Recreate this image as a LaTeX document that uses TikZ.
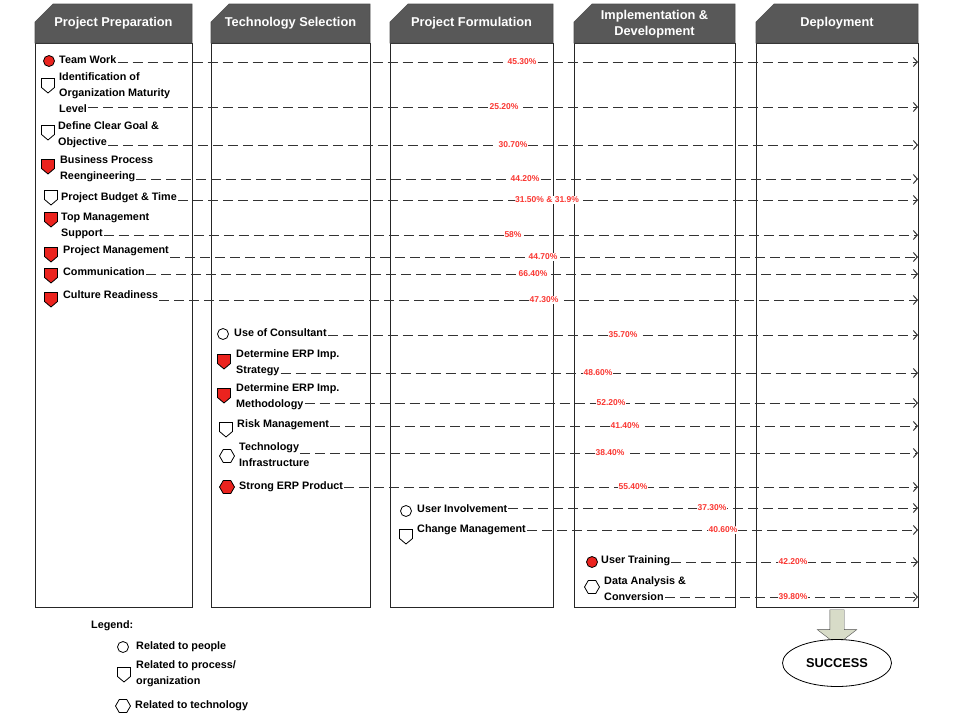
\documentclass[tikz,border=0pt]{standalone}
\usepackage{fontspec}
\setmainfont{Liberation Sans}
\usepackage{tikz}
\usetikzlibrary{shapes.geometric, shapes.symbols, shapes.arrows}
\usetikzlibrary{arrows.meta, positioning}
\definecolor{headgray}{RGB}{88,88,88}
\definecolor{factred}{RGB}{235,35,30}
\definecolor{pctred}{RGB}{250,55,50}
\definecolor{arrowgreen}{RGB}{216,220,200}
\tikzstyle{colbox} = [draw=black!85, line width=0.9pt, fill=white, inner sep=0pt]
\tikzstyle{headbox} = [draw=black!70, fill=headgray, line width=0.6pt]
\tikzstyle{headtext} = [text=white, font=\fontsize{12.8}{15}\selectfont\bfseries, align=center]
\tikzstyle{item} = [anchor=west, inner sep=1pt, text height=8pt, text depth=2.5pt, font=\fontsize{10.8}{13}\selectfont\bfseries]
\tikzstyle{people} = [circle, draw, line width=0.8pt, minimum size=11pt, inner sep=0pt, fill=white]
\tikzstyle{process} = [signal, signal to=south, signal pointer angle=100, draw, line width=0.8pt, minimum width=13pt, minimum height=9pt, inner sep=0pt, fill=white]
\tikzstyle{techno} = [regular polygon, regular polygon sides=6, draw, line width=0.8pt, minimum size=15pt, inner sep=0pt, fill=white]
\tikzstyle{pct} = [text=pctred, fill=white, inner sep=0.6pt, font=\fontsize{8.5}{9}\selectfont\bfseries]
\tikzstyle{dasharrow} = [draw=black!80, line width=1pt, dash pattern=on 10pt off 5pt, -{Straight Barb[length=4pt,width=9pt]}]

\begin{document}
\begin{tikzpicture}[x=1pt, y=-1pt]
    \useasboundingbox (0,0) rectangle (960,720);

    % Phase columns
    \node[colbox, minimum width=157pt, minimum height=564pt] (prep) at (113.5,325) {};
    \node[colbox, minimum width=159pt, minimum height=564pt] (techsel) at (290.5,325) {};
    \node[colbox, minimum width=163pt, minimum height=564pt] (formul) at (471.5,325) {};
    \node[colbox, minimum width=161pt, minimum height=564pt] (impl) at (654.5,325) {};
    \node[colbox, minimum width=162pt, minimum height=564pt] (deploy) at (837,325) {};

    % Phase headers
    \draw[headbox] (35,43) -- (35,22) -- (53,4) -- (192,4) -- (192,43) -- cycle;
    \node[headtext] (prephead) at (113.5,23) {Project Preparation};
    \draw[headbox] (211,43) -- (211,22) -- (229,4) -- (370,4) -- (370,43) -- cycle;
    \node[headtext] (techhead) at (290.5,23) {Technology Selection};
    \draw[headbox] (390,43) -- (390,22) -- (408,4) -- (553,4) -- (553,43) -- cycle;
    \node[headtext] (formhead) at (471.5,23) {Project Formulation};
    \draw[headbox] (574,43) -- (574,22) -- (592,4) -- (735,4) -- (735,43) -- cycle;
    \node[headtext, font=\fontsize{12.8}{16}\selectfont\bfseries] (implhead) at (654.5,24.5) {Implementation \&\\Development};
    \draw[headbox] (756,43) -- (756,22) -- (774,4) -- (918,4) -- (918,43) -- cycle;
    \node[headtext] (deplhead) at (837,23) {Deployment};

    % Team Work
    \node[people, fill=factred] (twi) at (49,61) {};
    \node[item] (tw) at (58,61) {Team Work};
    \coordinate (twend) at (918,62);
    \draw[dasharrow] (tw.east |- twend) -- (twend);
    \node[pct] (twp) at (522,62) {45.30\%};

    % Identification of Organization Maturity Level
    \node[process] (idi) at (48,83) {};
    \node[item] (idA) at (58,78) {Identification of};
    \node[item, below=3pt of idA.south west, anchor=north west] (idB) {Organization Maturity};
    \node[item, below=3pt of idB.south west, anchor=north west] (idC) {Level};
    \coordinate (idend) at (918,107);
    \draw[dasharrow] (idC.east |- idend) -- (idend);
    \node[pct] (idp) at (504,107) {25.20\%};

    % Define Clear Goal & Objective
    \node[process] (goi) at (48,130) {};
    \node[item] (goA) at (57,127) {Define Clear Goal \&};
    \node[item, below=3pt of goA.south west, anchor=north west] (goB) {Objective};
    \coordinate (goend) at (918,145);
    \draw[dasharrow] (goB.east |- goend) -- (goend);
    \node[pct] (gop) at (513,145) {30.70\%};

    % Business Process Reengineering
    \node[process, fill=factred] (bpi) at (48,164) {};
    \node[item] (bpA) at (59,161) {Business Process};
    \node[item, below=3pt of bpA.south west, anchor=north west] (bpB) {Reengineering};
    \coordinate (bpend) at (918,179);
    \draw[dasharrow] (bpB.east |- bpend) -- (bpend);
    \node[pct] (bpp) at (525,179) {44.20\%};

    % Project Budget & Time
    \node[process] (bti) at (51,195) {};
    \node[item] (bt) at (60,198) {Project Budget \& Time};
    \coordinate (btend) at (918,200);
    \draw[dasharrow] (bt.east |- btend) -- (btend);
    \node[pct] (btp) at (547,200) {31.50\% \& 31.9\%};

    % Top Management Support
    \node[process, fill=factred] (tmi) at (51,217) {};
    \node[item] (tmA) at (60,218) {Top Management};
    \node[item, below=3pt of tmA.south west, anchor=north west] (tmB) {Support};
    \coordinate (tmend) at (918,235);
    \draw[dasharrow] (tmB.east |- tmend) -- (tmend);
    \node[pct] (tmp) at (513,235) {58\%};

    % Project Management
    \node[process, fill=factred] (pmi) at (51,252) {};
    \node[item] (pm) at (62,251) {Project Management};
    \coordinate (pmend) at (918,257);
    \draw[dasharrow] (pm.east |- pmend) -- (pmend);
    \node[pct] (pmp) at (543,257) {44.70\%};

    % Communication
    \node[process, fill=factred] (cmi) at (51,273) {};
    \node[item] (cm) at (62,273) {Communication};
    \coordinate (cmend) at (918,274);
    \draw[dasharrow] (cm.east |- cmend) -- (cmend);
    \node[pct] (cmp) at (533,274) {66.40\%};

    % Culture Readiness
    \node[process, fill=factred] (cri) at (51,297) {};
    \node[item] (cr) at (62,296) {Culture Readiness};
    \coordinate (crend) at (918,300);
    \draw[dasharrow] (cr.east |- crend) -- (crend);
    \node[pct] (crp) at (544,300) {47.30\%};

    % Use of Consultant
    \node[people] (uci) at (223,334) {};
    \node[item] (uc) at (233,334) {Use of Consultant};
    \coordinate (ucend) at (918,335);
    \draw[dasharrow] (uc.east |- ucend) -- (ucend);
    \node[pct] (ucp) at (623,335) {35.70\%};

    % Determine ERP Imp. Strategy
    \node[process, fill=factred] (sti) at (224,359) {};
    \node[item] (stA) at (235,355) {Determine ERP Imp.};
    \node[item, below=3pt of stA.south west, anchor=north west] (stB) {Strategy};
    \coordinate (stend) at (918,373);
    \draw[dasharrow] (stB.east |- stend) -- (stend);
    \node[pct] (stp) at (598,373) {48.60\%};

    % Determine ERP Imp. Methodology
    \node[process, fill=factred] (mei) at (224,393) {};
    \node[item] (meA) at (235,389) {Determine ERP Imp.};
    \node[item, below=3pt of meA.south west, anchor=north west] (meB) {Methodology};
    \coordinate (meend) at (918,403);
    \draw[dasharrow] (meB.east |- meend) -- (meend);
    \node[pct] (mep) at (611,403) {52.20\%};

    % Risk Management
    \node[process] (rmi) at (226,427) {};
    \node[item] (rm) at (236,425) {Risk Management};
    \coordinate (rmend) at (918,426);
    \draw[dasharrow] (rm.east |- rmend) -- (rmend);
    \node[pct] (rmp) at (625,426) {41.40\%};

    % Technology Infrastructure
    \node[techno] (tii) at (227,456) {};
    \node[item] (tiA) at (238,448) {Technology};
    \node[item, below=3pt of tiA.south west, anchor=north west] (tiB) {Infrastructure};
    \coordinate (tiend) at (918,453);
    \draw[dasharrow] (tiA.east |- tiend) -- (tiend);
    \node[pct] (tip) at (610,453) {38.40\%};

    % Strong ERP Product
    \node[techno, fill=factred] (spi) at (227,487) {};
    \node[item] (sp) at (238,487) {Strong ERP Product};
    \coordinate (spend) at (918,487);
    \draw[dasharrow] (sp.east |- spend) -- (spend);
    \node[pct] (spp) at (633,487) {55.40\%};

    % User Involvement
    \node[people] (uii) at (406,511) {};
    \node[item] (ui) at (416,510) {User Involvement};
    \coordinate (uiend) at (918,508);
    \draw[dasharrow] (ui.east |- uiend) -- (uiend);
    \node[pct] (uip) at (712,508) {37.30\%};

    % Change Management
    \node[process] (chi) at (406,534) {};
    \node[item] (ch) at (416,530) {Change Management};
    \coordinate (chend) at (918,530);
    \draw[dasharrow] (ch.east |- chend) -- (chend);
    \node[pct] (chp) at (723,530) {40.60\%};

    % User Training
    \node[people, fill=factred] (uti) at (592,562) {};
    \node[item] (ut) at (600,561) {User Training};
    \coordinate (utend) at (918,562);
    \draw[dasharrow] (ut.east |- utend) -- (utend);
    \node[pct] (utp) at (793,562) {42.20\%};

    % Data Analysis & Conversion
    \node[techno] (dai) at (592,587) {};
    \node[item] (daA) at (603,582) {Data Analysis \&};
    \node[item, below=3pt of daA.south west, anchor=north west] (daB) {Conversion};
    \coordinate (daend) at (918,597);
    \draw[dasharrow] (daB.east |- daend) -- (daend);
    \node[pct] (dap) at (793,597) {39.80\%};

    % Success
    \node[single arrow, shape border rotate=270, draw=black!70, fill=arrowgreen, minimum width=39pt, minimum height=35pt, single arrow head extend=12.5pt, single arrow tip angle=105, inner sep=7pt] (down) at (837,624.5) {};
    \node[ellipse, draw, line width=0.8pt, fill=white, minimum width=109pt, minimum height=47pt, inner sep=0pt, font=\fontsize{12.8}{15}\selectfont\bfseries] (success) at (837,663) {SUCCESS};

    % Legend
    \node[item] (legend) at (90,626) {Legend:};
    \node[people] (lgpi) at (123,647) {};
    \node[item] (lgp) at (135,647) {Related to people};
    \node[process] (lgri) at (124,672) {};
    \node[item] (lgrA) at (135,666) {Related to process/};
    \node[item, below=3pt of lgrA.south west, anchor=north west] (lgrB) {organization};
    \node[techno] (lgti) at (123,706) {};
    \node[item] (lgt) at (134,706) {Related to technology};
\end{tikzpicture}
\end{document}
